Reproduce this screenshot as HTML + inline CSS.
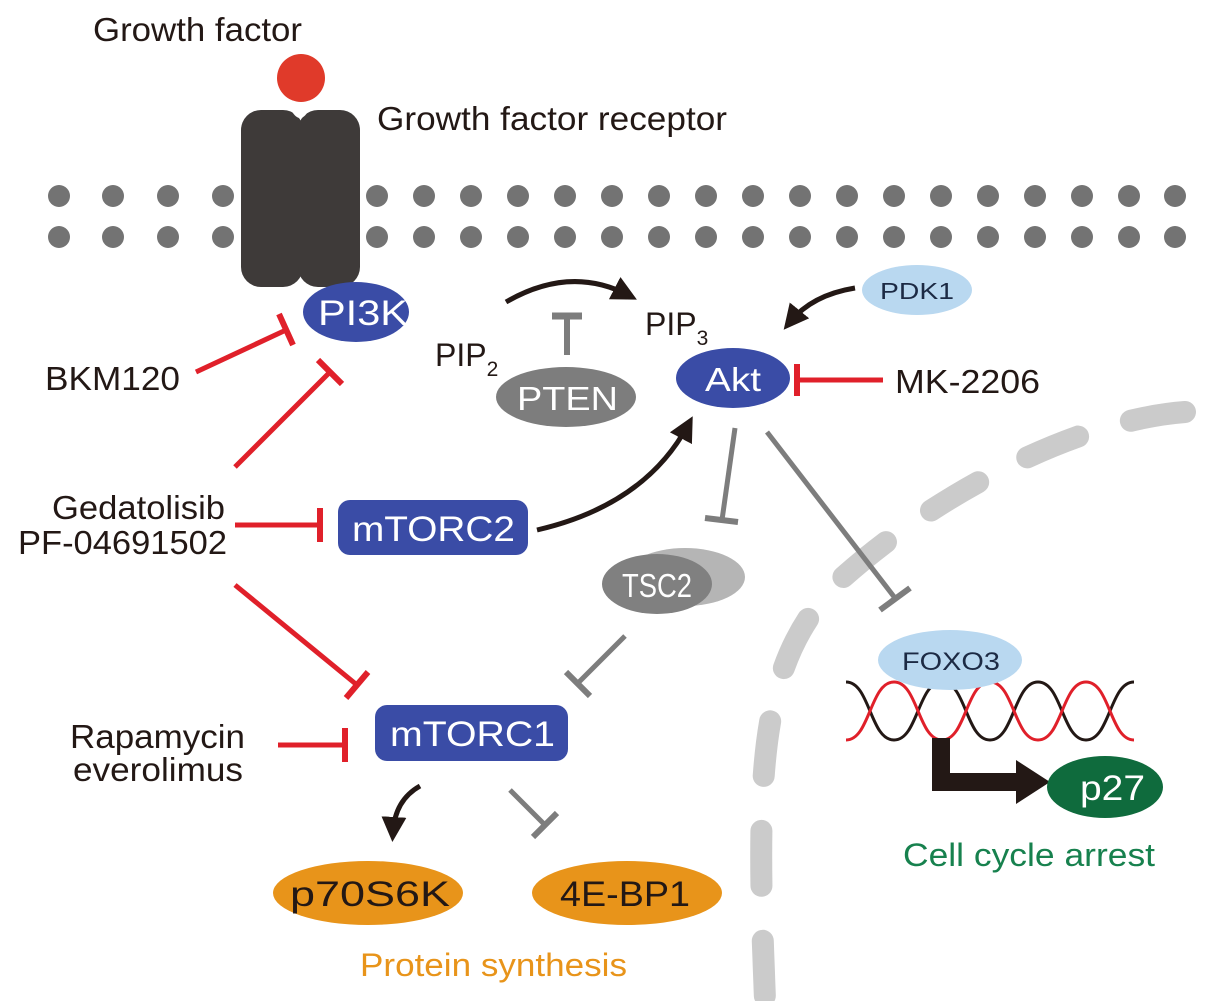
<!DOCTYPE html>
<html><head><meta charset="utf-8"><style>
html,body{margin:0;padding:0;background:#fff}
svg{display:block}
text{font-family:"Liberation Sans",Arial,sans-serif}
</style></head><body>
<svg width="1205" height="1001" viewBox="0 0 1205 1001" xmlns="http://www.w3.org/2000/svg">
<defs>
<marker id="ab" viewBox="0 0 10 10" refX="6" refY="5" markerWidth="5" markerHeight="5" orient="auto"><path d="M0,0 L10,5 L0,10 z" fill="#231815"/></marker>
</defs>
<!-- nuclear envelope -->
<path d="M1185,412 C1080,420 940,490 840,580 C760,660 755,760 765,1000" fill="none" stroke="#cbcbcb" stroke-width="22" stroke-linecap="round" stroke-dasharray="55 55"/>
<!-- membrane -->
<g fill="#737373">
<circle cx="59" cy="196" r="11"/><circle cx="113" cy="196" r="11"/><circle cx="168" cy="196" r="11"/><circle cx="223" cy="196" r="11"/>
<circle cx="59" cy="237" r="11"/><circle cx="113" cy="237" r="11"/><circle cx="168" cy="237" r="11"/><circle cx="223" cy="237" r="11"/>
</g>
<g fill="#737373">
<circle cx="377" cy="196" r="11"/><circle cx="424" cy="196" r="11"/><circle cx="471" cy="196" r="11"/><circle cx="518" cy="196" r="11"/><circle cx="565" cy="196" r="11"/><circle cx="612" cy="196" r="11"/><circle cx="659" cy="196" r="11"/><circle cx="706" cy="196" r="11"/><circle cx="753" cy="196" r="11"/><circle cx="800" cy="196" r="11"/><circle cx="847" cy="196" r="11"/><circle cx="894" cy="196" r="11"/><circle cx="941" cy="196" r="11"/><circle cx="988" cy="196" r="11"/><circle cx="1035" cy="196" r="11"/><circle cx="1082" cy="196" r="11"/><circle cx="1129" cy="196" r="11"/><circle cx="1175" cy="196" r="11"/>
<circle cx="377" cy="237" r="11"/><circle cx="424" cy="237" r="11"/><circle cx="471" cy="237" r="11"/><circle cx="518" cy="237" r="11"/><circle cx="565" cy="237" r="11"/><circle cx="612" cy="237" r="11"/><circle cx="659" cy="237" r="11"/><circle cx="706" cy="237" r="11"/><circle cx="753" cy="237" r="11"/><circle cx="800" cy="237" r="11"/><circle cx="847" cy="237" r="11"/><circle cx="894" cy="237" r="11"/><circle cx="941" cy="237" r="11"/><circle cx="988" cy="237" r="11"/><circle cx="1035" cy="237" r="11"/><circle cx="1082" cy="237" r="11"/><circle cx="1129" cy="237" r="11"/><circle cx="1175" cy="237" r="11"/>
</g>
<!-- receptor -->
<rect x="241" y="110" width="62" height="177" rx="20" fill="#3e3a39"/>
<rect x="298" y="110" width="62" height="177" rx="20" fill="#3e3a39"/>
<path d="M290,108 Q300,128 310,108 z" fill="#fff"/>
<circle cx="301" cy="78" r="24" fill="#e03a2a"/>
<text x="93" y="41" font-size="33" fill="#231815" textLength="209" lengthAdjust="spacingAndGlyphs">Growth factor</text>
<text x="377" y="130" font-size="33" fill="#231815" textLength="350" lengthAdjust="spacingAndGlyphs">Growth factor receptor</text>
<!-- PI3K -->
<ellipse cx="356" cy="312" rx="53" ry="30" fill="#3a4ca6"/>
<text x="318" y="325" font-size="35" fill="#fff" textLength="90" lengthAdjust="spacingAndGlyphs">PI3K</text>
<text x="435" y="366" font-size="32" fill="#231815">PIP<tspan font-size="21" dy="10">2</tspan></text>
<text x="645" y="335" font-size="32" fill="#231815">PIP<tspan font-size="21" dy="10">3</tspan></text>
<path d="M506,302 Q570,265 628,295" fill="none" stroke="#231815" stroke-width="5" marker-end="url(#ab)"/>
<!-- PTEN -->
<line x1="567" y1="316" x2="567" y2="355" stroke="#7d7d7d" stroke-width="6"/>
<line x1="552" y1="316" x2="582" y2="316" stroke="#7d7d7d" stroke-width="7"/>
<ellipse cx="566" cy="397" rx="70" ry="30" fill="#7d7d7d"/>
<text x="517" y="410" font-size="33" fill="#fff" textLength="101" lengthAdjust="spacingAndGlyphs">PTEN</text>
<!-- Akt -->
<ellipse cx="733" cy="378" rx="57" ry="30" fill="#3a4ca6"/>
<text x="705" y="391" font-size="33" fill="#fff" textLength="56" lengthAdjust="spacingAndGlyphs">Akt</text>
<ellipse cx="917" cy="290" rx="55" ry="25" fill="#b9d8f0"/>
<text x="880" y="299" font-size="23" fill="#1c2a44" textLength="74" lengthAdjust="spacingAndGlyphs">PDK1</text>
<path d="M855,288 Q812,295 790,322" fill="none" stroke="#231815" stroke-width="5" marker-end="url(#ab)"/>
<!-- MK-2206 -->
<line x1="883" y1="380" x2="797" y2="380" stroke="#e0202a" stroke-width="5"/>
<line x1="797" y1="364" x2="797" y2="396" stroke="#e0202a" stroke-width="6"/>
<text x="895" y="393" font-size="33" fill="#231815" textLength="145" lengthAdjust="spacingAndGlyphs">MK-2206</text>
<!-- BKM120 -->
<text x="45" y="390" font-size="33" fill="#231815" textLength="135" lengthAdjust="spacingAndGlyphs">BKM120</text>
<line x1="196" y1="372" x2="286" y2="330" stroke="#e0202a" stroke-width="5"/>
<line x1="279" y1="314" x2="293" y2="345" stroke="#e0202a" stroke-width="6"/>
<!-- Gedatolisib -->
<text x="52" y="519" font-size="33" fill="#231815" textLength="173" lengthAdjust="spacingAndGlyphs">Gedatolisib</text>
<text x="18" y="554" font-size="33" fill="#231815" textLength="209" lengthAdjust="spacingAndGlyphs">PF-04691502</text>
<line x1="235" y1="467" x2="330" y2="372" stroke="#e0202a" stroke-width="5"/>
<line x1="318" y1="360" x2="342" y2="384" stroke="#e0202a" stroke-width="6"/>
<line x1="235" y1="525" x2="320" y2="525" stroke="#e0202a" stroke-width="5"/>
<line x1="320" y1="508" x2="320" y2="542" stroke="#e0202a" stroke-width="6"/>
<line x1="235" y1="585" x2="357" y2="685" stroke="#e0202a" stroke-width="5"/>
<line x1="346" y1="698" x2="368" y2="672" stroke="#e0202a" stroke-width="6"/>
<!-- mTORC2 -->
<rect x="338" y="500" width="190" height="55" rx="12" fill="#3a4ca6"/>
<text x="352" y="541" font-size="35" fill="#fff" textLength="163" lengthAdjust="spacingAndGlyphs">mTORC2</text>
<path d="M537,530 Q645,505 688,425" fill="none" stroke="#231815" stroke-width="5" marker-end="url(#ab)"/>
<!-- TSC2 -->
<line x1="735" y1="428" x2="722" y2="520" stroke="#7d7d7d" stroke-width="5"/>
<line x1="705" y1="518" x2="738" y2="522" stroke="#7d7d7d" stroke-width="6"/>
<ellipse cx="685" cy="577" rx="60" ry="29" fill="#b5b5b5"/>
<ellipse cx="657" cy="584" rx="55" ry="30" fill="#808080"/>
<text x="622" y="597" font-size="33" fill="#fff" textLength="70" lengthAdjust="spacingAndGlyphs">TSC2</text>
<line x1="625" y1="636" x2="578" y2="683" stroke="#7d7d7d" stroke-width="5"/>
<line x1="566" y1="672" x2="590" y2="696" stroke="#7d7d7d" stroke-width="6"/>
<!-- FOXO3 -->
<line x1="767" y1="432" x2="895" y2="598" stroke="#7d7d7d" stroke-width="5"/>
<line x1="880" y1="610" x2="910" y2="588" stroke="#7d7d7d" stroke-width="6"/>
<path d="M846,682 C870,682 870,740 894,740 C918,740 918,682 942,682 C966,682 966,740 990,740 C1014,740 1014,682 1038,682 C1062,682 1062,740 1086,740 C1110,740 1110,682 1134,682" fill="none" stroke="#231815" stroke-width="3"/>
<path d="M846,740 C870,740 870,682 894,682 C918,682 918,740 942,740 C966,740 966,682 990,682 C1014,682 1014,740 1038,740 C1062,740 1062,682 1086,682 C1110,682 1110,740 1134,740" fill="none" stroke="#e0202a" stroke-width="3"/>
<ellipse cx="950" cy="660" rx="72" ry="30" fill="#b9d8f0"/>
<text x="902" y="670" font-size="25" fill="#1c2a44" textLength="98" lengthAdjust="spacingAndGlyphs">FOXO3</text>
<path d="M941,738 L941,782 L1020,782" fill="none" stroke="#231815" stroke-width="18"/>
<path d="M1016,760 L1050,782 L1016,804 z" fill="#231815"/>
<ellipse cx="1105" cy="787" rx="58" ry="31" fill="#0f6b3d"/>
<text x="1080" y="800" font-size="35" fill="#fff" textLength="65" lengthAdjust="spacingAndGlyphs">p27</text>
<text x="903" y="866" font-size="32" fill="#17814e" textLength="252" lengthAdjust="spacingAndGlyphs">Cell cycle arrest</text>
<!-- mTORC1 -->
<text x="70" y="748" font-size="33" fill="#231815" textLength="175" lengthAdjust="spacingAndGlyphs">Rapamycin</text>
<text x="73" y="781" font-size="33" fill="#231815" textLength="170" lengthAdjust="spacingAndGlyphs">everolimus</text>
<line x1="278" y1="745" x2="345" y2="745" stroke="#e0202a" stroke-width="5"/>
<line x1="345" y1="728" x2="345" y2="762" stroke="#e0202a" stroke-width="6"/>
<rect x="375" y="705" width="193" height="56" rx="12" fill="#3a4ca6"/>
<text x="390" y="746" font-size="35" fill="#fff" textLength="165" lengthAdjust="spacingAndGlyphs">mTORC1</text>
<path d="M420,786 Q395,800 393,832" fill="none" stroke="#231815" stroke-width="5" marker-end="url(#ab)"/>
<line x1="510" y1="790" x2="545" y2="825" stroke="#7d7d7d" stroke-width="5"/>
<line x1="533" y1="837" x2="557" y2="813" stroke="#7d7d7d" stroke-width="6"/>
<ellipse cx="368" cy="893" rx="95" ry="32" fill="#e8941a"/>
<text x="290" y="906" font-size="35" fill="#231815" textLength="160" lengthAdjust="spacingAndGlyphs">p70S6K</text>
<ellipse cx="627" cy="893" rx="95" ry="32" fill="#e8941a"/>
<text x="560" y="906" font-size="35" fill="#231815" textLength="130" lengthAdjust="spacingAndGlyphs">4E-BP1</text>
<text x="360" y="976" font-size="32" fill="#e8941a" textLength="267" lengthAdjust="spacingAndGlyphs">Protein synthesis</text>
</svg>
</body></html>
